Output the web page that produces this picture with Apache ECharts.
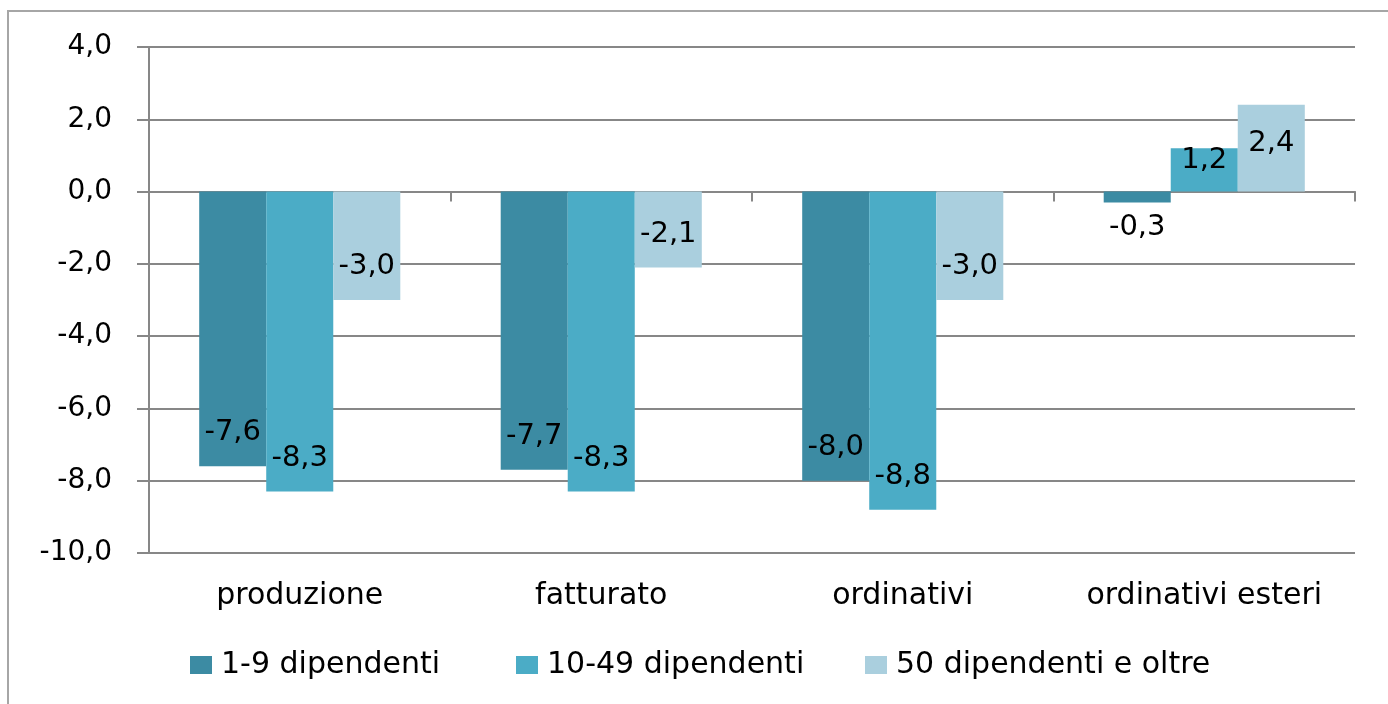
<!DOCTYPE html>
<html>
<head>
<meta charset="utf-8">
<script src="https://cdn.jsdelivr.net/npm/echarts@6/dist/echarts.min.js"></script>
<style>
html,body{margin:0;padding:0;background:#fff;}
#chart{width:1388px;height:704px;}
</style>
</head>
<body>
<div id="chart"></div>
<script>
const categories = ['produzione', 'fatturato', 'ordinativi', 'ordinativi esteri'];
const seriesNames = ['1-9 dipendenti', '10-49 dipendenti', '50 dipendenti e oltre'];
const small = [-7.6, -7.7, -8.0, -0.3];
const medium = [-8.3, -8.3, -8.8, 1.2];
const large = [-3.0, -2.1, -3.0, 2.4];
const yTicks = { min: -10, max: 4, interval: 2 };

const colors = ['#3C8BA3', '#4BACC6', '#AACFDE'];
const FONT = 'DejaVu Sans';
const fmt = v => Number(v).toFixed(1).replace('.', ',');

function labelFor(v) {
  if (v < 0 && v > -1) return { position: 'bottom', distance: 11 };
  if (v < 0) return { position: 'insideBottom', distance: 19 };
  if (v < 2) return { position: 'insideTop', distance: -2 };
  return { position: 'insideTop', distance: 24 };
}

const seriesData = [small, medium, large];
const series = seriesData.map((arr, i) => ({
  name: seriesNames[i],
  type: 'bar',
  xAxisIndex: 0,
  barGap: '0%',
  barCategoryGap: '33.3%',
  itemStyle: { color: colors[i] },
  label: {
    show: true,
    color: '#000',
    fontFamily: FONT,
    fontSize: 29,
    formatter: p => fmt(p.value)
  },
  data: arr.map(v => ({ value: v, label: labelFor(v) }))
}));

const legendLefts = [190, 516, 865];
const legends = seriesNames.map((n, i) => ({
  data: [n],
  left: legendLefts[i],
  top: 650,
  icon: 'rect',
  itemWidth: 22,
  itemHeight: 18,
  itemGap: 0,
  padding: 0,
  textStyle: { fontFamily: FONT, fontSize: 30, color: '#000', padding: [0, 0, 0, 4] },
  selectedMode: false
}));

const chart = echarts.init(document.getElementById('chart'), null, { renderer: 'canvas' });
chart.setOption({
  animation: false,
  backgroundColor: '#fff',
  color: colors,
  grid: { left: 149, right: 33, top: 47, bottom: 151, containLabel: false },
  legend: legends,
  graphic: [{
    type: 'rect',
    shape: { x: 8, y: 11, width: 1400, height: 720 },
    style: { fill: 'none', stroke: '#a6a6a6', lineWidth: 2 },
    silent: true
  }],
  xAxis: [{
    type: 'category',
    data: categories,
    position: 'top',
    axisLine: { show: true, onZero: true, lineStyle: { color: '#878787', width: 2 } },
    axisTick: { show: true, inside: true, length: 10, lineStyle: { color: '#878787', width: 2 } },
    axisLabel: { show: false },
    splitLine: { show: false }
  }, {
    type: 'category',
    data: categories,
    position: 'bottom',
    axisLine: { show: false, onZero: false },
    axisTick: { show: false },
    axisLabel: { show: true, interval: 0, hideOverlap: false, margin: 28, fontFamily: FONT, fontSize: 30, color: '#000' },
    splitLine: { show: false }
  }],
  yAxis: {
    type: 'value',
    min: yTicks.min,
    max: yTicks.max,
    interval: yTicks.interval,
    axisLine: { show: true, lineStyle: { color: '#878787', width: 2 } },
    axisTick: { show: true, length: 12, lineStyle: { color: '#878787', width: 2 } },
    axisLabel: { margin: 37, fontFamily: FONT, fontSize: 28, color: '#000', formatter: v => fmt(v) },
    splitLine: { show: true, lineStyle: { color: '#878787', width: 2 } }
  },
  series: series
});
</script>
</body>
</html>
